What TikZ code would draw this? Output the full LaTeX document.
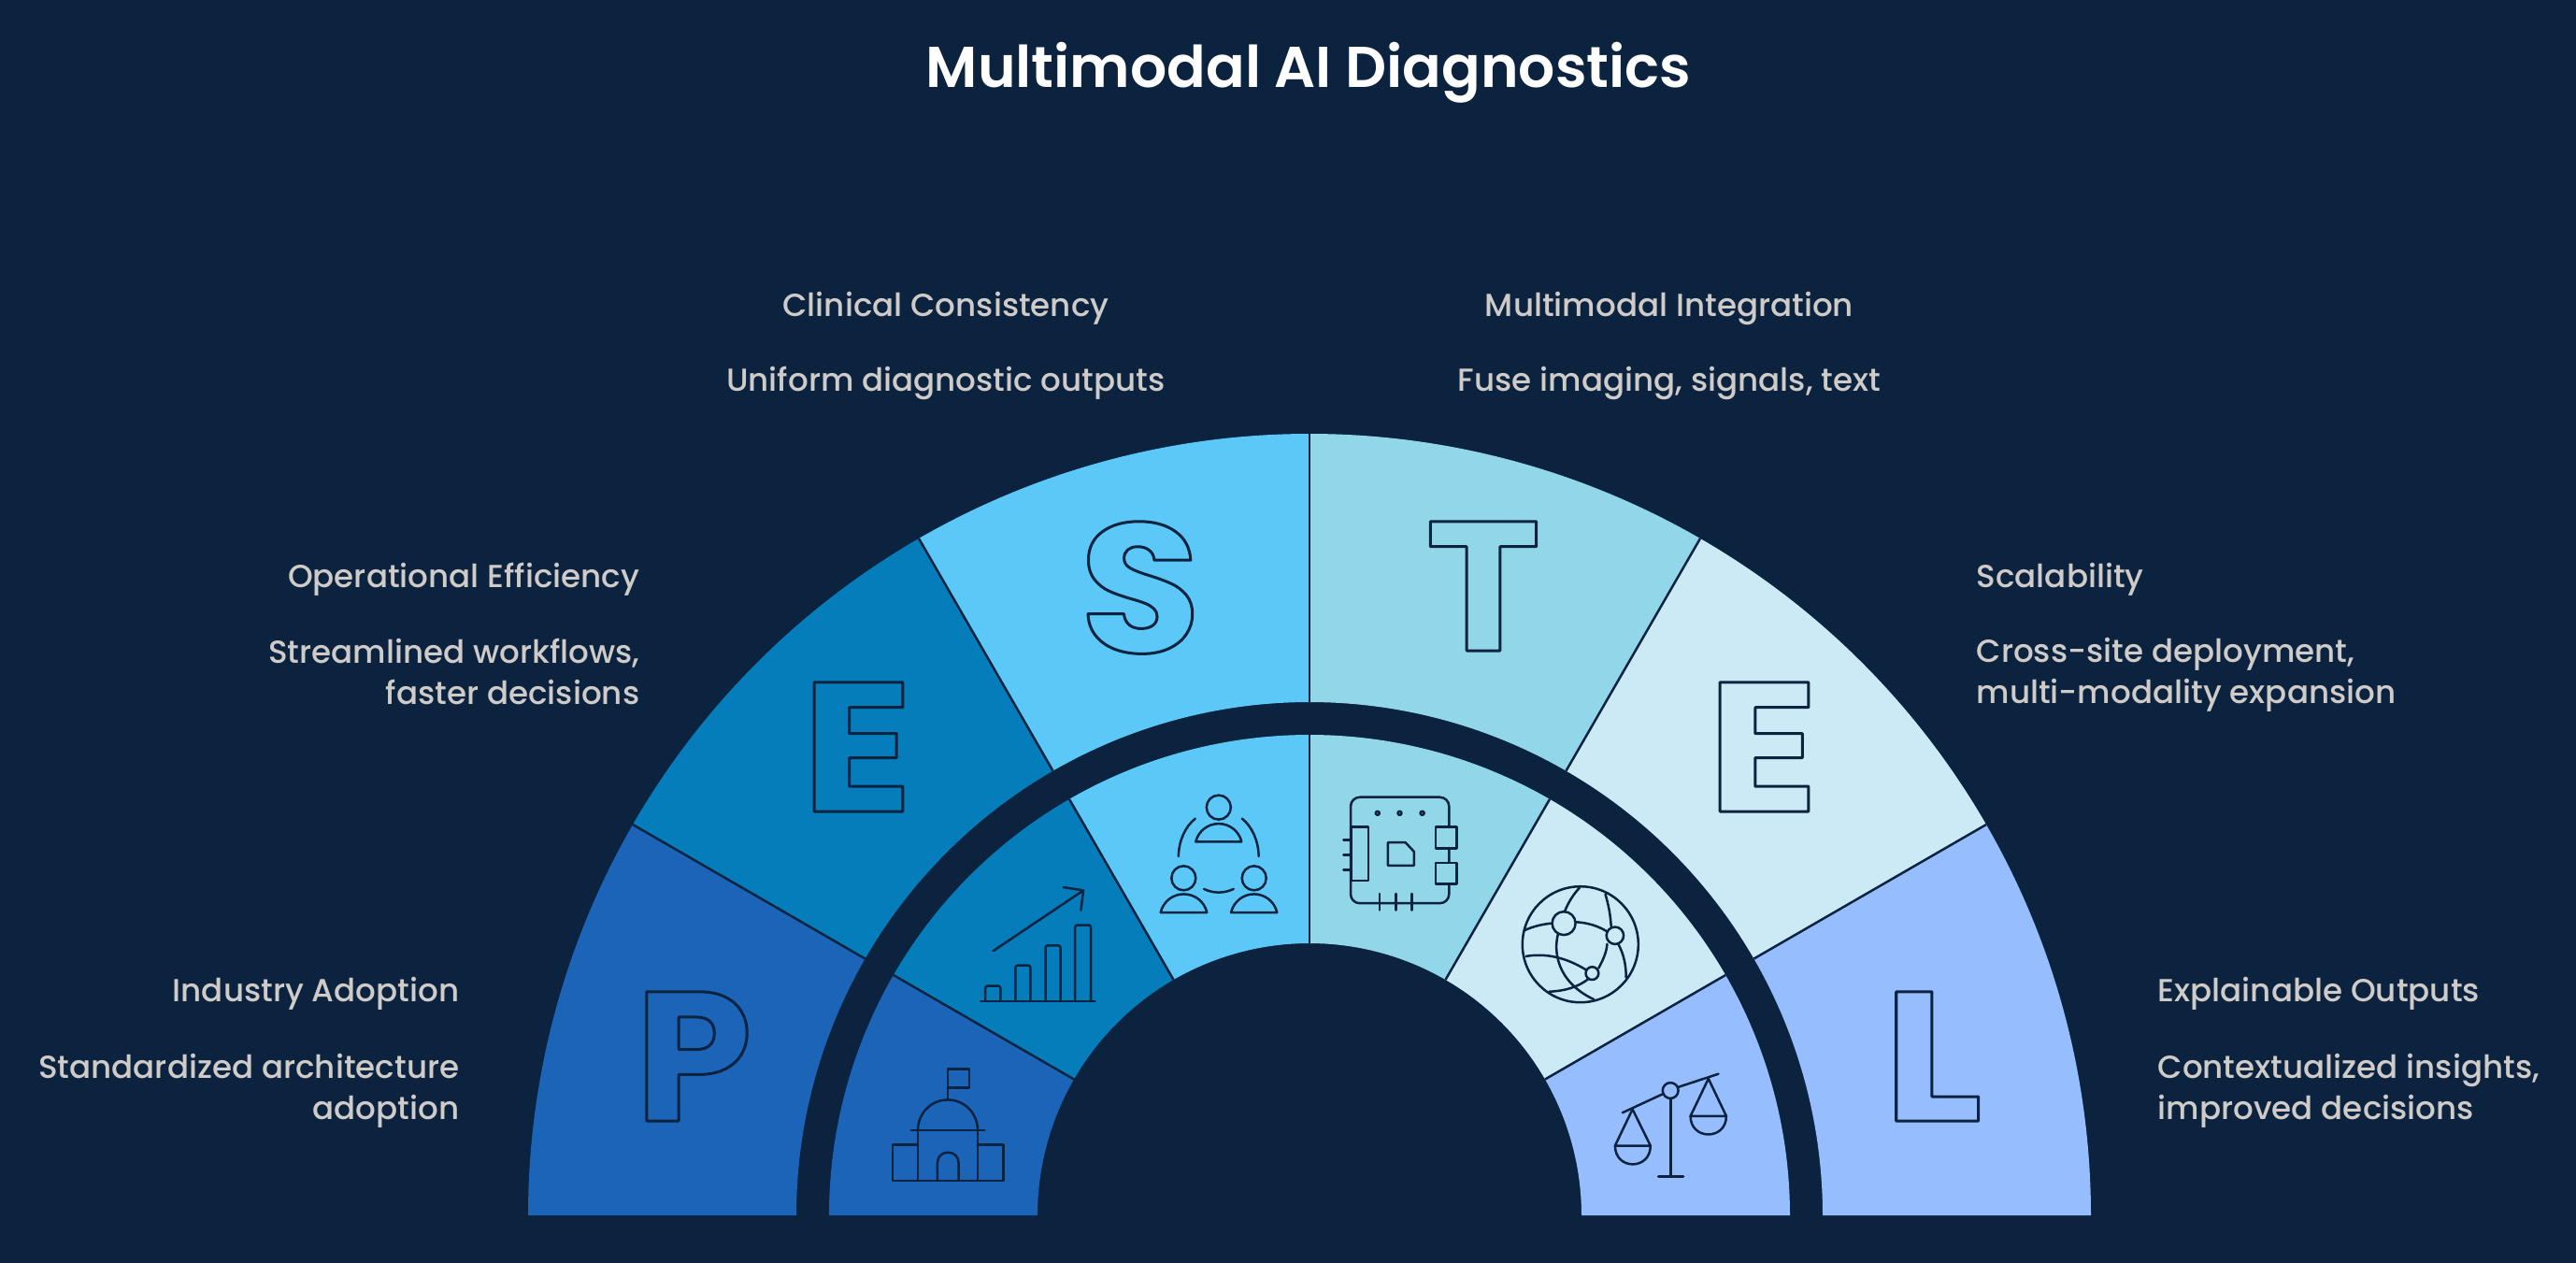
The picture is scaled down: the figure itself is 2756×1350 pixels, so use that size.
\documentclass[tikz,border=0pt]{standalone}
\usepackage{fontspec}
\setmainfont{Poppins}[UprightFont=* Medium,BoldFont=* SemiBold]
\newfontfamily\glyphfont{Poppins}[UprightFont=* Bold]

\definecolor{navyBack}{HTML}{0C2340}
\definecolor{labelGrey}{HTML}{CFCBC8}
\definecolor{sliceP}{HTML}{1B64B8}
\definecolor{sliceEa}{HTML}{047DBA}
\definecolor{sliceS}{HTML}{5BC8F8}
\definecolor{sliceT}{HTML}{92D6EA}
\definecolor{sliceEb}{HTML}{CCE9F6}
\definecolor{sliceL}{HTML}{96BDFD}

\newcommand{\holeR}{291}
\newcommand{\innerR}{514}
\newcommand{\bandR}{549}
\newcommand{\outerR}{836}
\newcommand{\hollow}[2]{\addfontfeature{FakeStretch=#1}\special{pdf:code q 1 Tr 0.85 w 1 j 0.047 0.137 0.251 RG}#2\special{pdf:code Q}}

\tikzset{
  divider/.style={draw=navyBack, line width=0.025cm},
  iconline/.style={draw=navyBack, line width=0.025cm, line cap=round, line join=round},
  headline/.style={text=labelGrey, inner sep=0, font=\fontsize{9.7}{12.5}\selectfont},
  bigletter/.style={anchor=base, inner sep=0, font=\glyphfont\fontsize{56}{56}\selectfont},
}

\begin{document}
\begin{tikzpicture}[x=0.01cm, y=-0.01cm]
  \useasboundingbox (0,0) rectangle (2756,1350);
  \fill[navyBack] (-10,-10) rectangle (2766,1360);

  \node[text=white, inner sep=0, anchor=base, font=\bfseries\fontsize{17.5}{21}\selectfont] (title) at (1400,93) {Multimodal AI Diagnostics};

  \begin{scope}[shift={(1401,1300)}, y=0.01cm]
    \fill[sliceP]  (180:\bandR) arc[start angle=180, end angle=150, radius=\bandR] -- (150:\outerR) arc[start angle=150, end angle=180, radius=\outerR] -- cycle;
    \fill[sliceEa] (150:\bandR) arc[start angle=150, end angle=120, radius=\bandR] -- (120:\outerR) arc[start angle=120, end angle=150, radius=\outerR] -- cycle;
    \fill[sliceS]  (120:\bandR) arc[start angle=120, end angle=90, radius=\bandR] -- (90:\outerR) arc[start angle=90, end angle=120, radius=\outerR] -- cycle;
    \fill[sliceT]  (90:\bandR) arc[start angle=90, end angle=60, radius=\bandR] -- (60:\outerR) arc[start angle=60, end angle=90, radius=\outerR] -- cycle;
    \fill[sliceEb] (60:\bandR) arc[start angle=60, end angle=30, radius=\bandR] -- (30:\outerR) arc[start angle=30, end angle=60, radius=\outerR] -- cycle;
    \fill[sliceL]  (30:\bandR) arc[start angle=30, end angle=0, radius=\bandR] -- (0:\outerR) arc[start angle=0, end angle=30, radius=\outerR] -- cycle;

    \fill[sliceP]  (180:\holeR) arc[start angle=180, end angle=150, radius=\holeR] -- (150:\innerR) arc[start angle=150, end angle=180, radius=\innerR] -- cycle;
    \fill[sliceEa] (150:\holeR) arc[start angle=150, end angle=120, radius=\holeR] -- (120:\innerR) arc[start angle=120, end angle=150, radius=\innerR] -- cycle;
    \fill[sliceS]  (120:\holeR) arc[start angle=120, end angle=90, radius=\holeR] -- (90:\innerR) arc[start angle=90, end angle=120, radius=\innerR] -- cycle;
    \fill[sliceT]  (90:\holeR) arc[start angle=90, end angle=60, radius=\holeR] -- (60:\innerR) arc[start angle=60, end angle=90, radius=\innerR] -- cycle;
    \fill[sliceEb] (60:\holeR) arc[start angle=60, end angle=30, radius=\holeR] -- (30:\innerR) arc[start angle=30, end angle=60, radius=\innerR] -- cycle;
    \fill[sliceL]  (30:\holeR) arc[start angle=30, end angle=0, radius=\holeR] -- (0:\innerR) arc[start angle=0, end angle=30, radius=\innerR] -- cycle;

    \draw[divider] (150:\holeR) -- (150:\innerR) (150:\bandR) -- (150:\outerR);
    \draw[divider] (120:\holeR) -- (120:\innerR) (120:\bandR) -- (120:\outerR);
    \draw[divider] (90:\holeR) -- (90:\innerR) (90:\bandR) -- (90:\outerR);
    \draw[divider] (60:\holeR) -- (60:\innerR) (60:\bandR) -- (60:\outerR);
    \draw[divider] (30:\holeR) -- (30:\innerR) (30:\bandR) -- (30:\outerR);
  \end{scope}

  \node[bigletter] (letterP) at (742,1199) {\hollow{1.02}{P}};
  \node[bigletter] (letterEa) at (917,868) {\hollow{1.12}{E}};
  \node[bigletter] (letterS) at (1220,698) {\hollow{1.07}{S}};
  \node[bigletter] (letterT) at (1587,696) {\hollow{1.06}{T}};
  \node[bigletter] (letterEb) at (1886,868) {\hollow{1.12}{E}};
  \node[bigletter] (letterL) at (2068,1199) {\hollow{1.13}{L}};

  \node[headline, anchor=base] (clinicalHead) at (1012,338) {Clinical Consistency};
  \node[headline, anchor=base] (clinicalText) at (1012,418) {Uniform diagnostic outputs};
  \node[headline, anchor=base] (fusionHead) at (1786,338) {Multimodal Integration};
  \node[headline, anchor=base] (fusionText) at (1786,418) {Fuse imaging, signals, text};
  \node[headline, anchor=base east] (opsHead) at (685,628) {Operational Efficiency};
  \node[headline, anchor=north east, align=right] (opsText) at (685,682) {Streamlined workflows,\\faster decisions};
  \node[headline, anchor=base west] (scaleHead) at (2114,628) {Scalability};
  \node[headline, anchor=north west, align=left] (scaleText) at (2114,682) {Cross-site deployment,\\multi-modality expansion};
  \node[headline, anchor=base east] (adoptHead) at (492,1071) {Industry Adoption};
  \node[headline, anchor=north east, align=right] (adoptText) at (492,1127) {Standardized architecture\\adoption};
  \node[headline, anchor=base west] (explainHead) at (2308,1071) {Explainable Outputs};
  \node[headline, anchor=north west, align=left] (explainText) at (2308,1127) {Contextualized insights,\\improved decisions};

  % building
  \draw[iconline] (982,1224.4) -- (955,1224.4) -- (955,1263) -- (1073.4,1263) -- (1073.4,1224.4) -- (1046,1224.4);
  \draw[iconline] (982,1263) -- (982,1209) (1046,1263) -- (1046,1209);
  \draw[iconline] (974.7,1209) -- (1053.3,1209);
  \draw[iconline] (982,1209) .. controls (982,1191) and (996,1176.4) .. (1014,1176.4) .. controls (1032,1176.4) and (1046,1191) .. (1046,1209);
  \draw[iconline] (1014,1176.4) -- (1014,1143.6) -- (1037,1143.6) -- (1037,1163.6) -- (1014,1163.6);
  \draw[iconline] (1002.9,1263) -- (1002.9,1244) .. controls (1002.9,1237) and (1008,1232.7) .. (1014.2,1232.7) .. controls (1020.5,1232.7) and (1025.6,1237) .. (1025.6,1244) -- (1025.6,1263);

  % chart
  \draw[iconline] (1049.3,1070.9) -- (1171.6,1070.9);
  \draw[iconline, rounded corners=0.7pt] (1054.2,1070.9) -- (1054.2,1054.5) -- (1070.3,1054.5) -- (1070.3,1070.9);
  \draw[iconline, rounded corners=0.7pt] (1086.3,1070.9) -- (1086.3,1032.7) -- (1102.4,1032.7) -- (1102.4,1070.9);
  \draw[iconline, rounded corners=0.7pt] (1118.5,1070.9) -- (1118.5,1011.3) -- (1134.6,1011.3) -- (1134.6,1070.9);
  \draw[iconline, rounded corners=0.7pt] (1150.2,1070.9) -- (1150.2,989.5) -- (1167.1,989.5) -- (1167.1,1070.9);
  \draw[iconline] (1062.7,1017.1) -- (1159.1,952.4);
  \draw[iconline] (1137.7,949.1) -- (1159.1,952.4) -- (1156.4,973.5);

  % people
  \draw[iconline] (1303.8,863.6) circle (13);
  \draw[iconline] (1266.3,939.3) circle (13);
  \draw[iconline] (1341.7,939.3) circle (13);
  \draw[iconline] (1279.3,900.4) .. controls (1282,889) and (1292,881.1) .. (1303.8,881.1) .. controls (1315.6,881.1) and (1325.6,889) .. (1328.3,900.4) -- cycle;
  \draw[iconline] (1241.7,976) .. controls (1244.4,964.6) and (1254.4,956.4) .. (1266.5,956.4) .. controls (1278.6,956.4) and (1288.6,964.6) .. (1291.3,976) -- cycle;
  \draw[iconline] (1317.1,976) .. controls (1319.8,964.6) and (1329.8,956.4) .. (1341.7,956.4) .. controls (1353.6,956.4) and (1363.6,964.6) .. (1366.3,976) -- cycle;
  \draw[iconline] (1260.9,916) .. controls (1260.9,900) and (1268,884) .. (1278.8,875.6);
  \draw[iconline] (1346.6,916) .. controls (1346.6,900) and (1339.6,884) .. (1328.8,875.6);
  \draw[iconline] (1288.1,950.9) .. controls (1298,955.8) and (1309.6,955.8) .. (1319.8,950.9);

  % board
  \draw[iconline, rounded corners=2.8pt] (1445,852.7) rectangle (1550.3,966.2);
  \fill[sliceT] (1446,884.7) rectangle (1464.2,942.2);
  \draw[iconline] (1445.8,884.7) rectangle (1464.2,942.2);
  \filldraw[iconline, fill=sliceT] (1536.1,884.7) rectangle (1558.7,907.3);
  \filldraw[iconline, fill=sliceT] (1536.1,922.9) rectangle (1558.7,945.5);
  \draw[iconline] (1484.9,901.1) -- (1503.6,901.1) -- (1512.8,910.9) -- (1512.8,925.8) -- (1484.9,925.8) -- cycle;
  \draw[iconline] (1437.4,898.5) -- (1445,898.5) (1437.4,914.5) -- (1445,914.5) (1437.4,930.5) -- (1445,930.5);
  \draw[iconline] (1476.1,956) -- (1476.1,973.5) (1493.7,956) -- (1493.7,973.5) (1510.5,956) -- (1510.5,973.5);
  \draw[iconline] (1473.8,869.8) circle (2) (1497.5,869.8) circle (2) (1521.6,869.8) circle (2);

  % globe
  \draw[iconline] (1690.8,1010.2) circle (62);
  \draw[iconline] (1673.1,987.6) circle (12.5);
  \draw[iconline] (1727.9,1000.7) circle (9.2);
  \draw[iconline] (1703.4,1041.1) circle (6.9);
  \draw[iconline] (1690,949.5) .. controls (1683,957) and (1678,965) .. (1673.9,975.3);
  \draw[iconline] (1717.5,956.4) .. controls (1721,968) and (1723,979) .. (1723.7,990.9);
  \draw[iconline] (1630.7,995.3) .. controls (1640,991) and (1650,988.5) .. (1660.6,987.6);
  \draw[iconline] (1685.6,986.2) .. controls (1698,987) and (1709,990) .. (1719.4,996.4);
  \draw[iconline] (1667,998.7) .. controls (1662,1017) and (1665,1050) .. (1705.3,1069.1);
  \draw[iconline] (1719.4,1009.8) .. controls (1719,1018) and (1715,1027) .. (1710.3,1035.6);
  \draw[iconline] (1731.3,1009.8) .. controls (1737,1020) and (1739.7,1032) .. (1739.7,1045.5);
  \draw[iconline] (1632.6,1022.9) .. controls (1655,1019) and (1677,1025) .. (1697,1037.5);
  \draw[iconline] (1699.6,1047) .. controls (1688,1056) and (1674,1060) .. (1657.5,1060.7);

  % scales
  \draw[iconline] (1787.6,1175) -- (1787.6,1258.5) (1774.2,1258.5) -- (1801,1258.5);
  \draw[iconline] (1787.2,1166.5) circle (8.4);
  \draw[iconline] (1735.9,1190.2) -- (1779.4,1170) (1795,1163) -- (1838.5,1148.7);
  \draw[iconline] (1746.6,1186.5) -- (1727.9,1225.5) -- (1765.8,1225.5) -- cycle;
  \draw[iconline] (1727.9,1225.5) .. controls (1727.9,1252) and (1765.8,1252) .. (1765.8,1225.5);
  \draw[iconline] (1827.8,1153.8) -- (1808.6,1193.8) -- (1846.9,1193.8) -- cycle;
  \draw[iconline] (1808.6,1193.8) .. controls (1808.6,1220) and (1846.9,1220) .. (1846.9,1193.8);
\end{tikzpicture}
\end{document}
